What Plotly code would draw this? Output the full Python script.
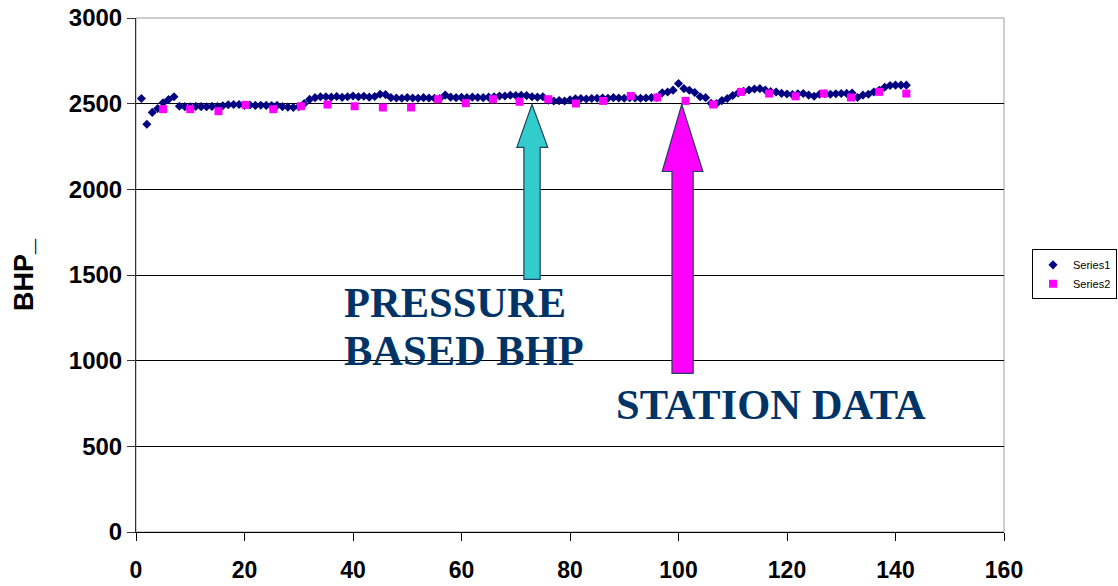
import plotly.graph_objects as go

# ---- data ----
series1_x = list(range(1, 143))
series1_y = [
    2530, 2380, 2449, 2472, 2505, 2524, 2540, 2485, 2483, 2482,
    2484, 2483, 2482, 2484, 2483, 2488, 2494, 2495, 2495, 2490,
    2492, 2490, 2491, 2490, 2489, 2490, 2483, 2480, 2478, 2482,
    2500, 2525, 2535, 2540, 2540, 2538, 2542, 2537, 2540, 2545,
    2540, 2543, 2538, 2542, 2555, 2553, 2535, 2533, 2532, 2535,
    2533, 2532, 2535, 2533, 2532, 2530, 2550, 2538, 2535, 2537,
    2535, 2538, 2536, 2535, 2538, 2540, 2545, 2545, 2549, 2548,
    2549, 2547, 2540, 2538, 2540, 2520, 2516, 2518, 2516, 2522,
    2528, 2530, 2527, 2530, 2532, 2533, 2532, 2535, 2533, 2532,
    2535, 2533, 2532, 2533, 2535, 2536, 2563, 2568, 2579, 2618,
    2588, 2578, 2565, 2540, 2535, 2502, 2500, 2518, 2530, 2548,
    2562, 2572, 2580, 2586, 2588, 2580, 2570, 2568, 2560, 2556,
    2553, 2558, 2559, 2550, 2543, 2555, 2558, 2555, 2558, 2559,
    2560, 2562, 2536, 2550, 2555, 2568, 2578, 2596, 2606, 2608,
    2608, 2608,
]

series2_x = [5.0, 10.0, 15.2, 20.2, 25.3, 30.4, 35.3, 40.3, 45.5, 50.7,
             55.7, 60.8, 65.8, 70.7, 76.0, 81.1, 86.1, 91.2, 96.1, 101.3,
             106.4, 111.5, 116.7, 121.6, 126.8, 131.8, 137.0, 142.0]
series2_y = [2468, 2468, 2456, 2493, 2468, 2485, 2495, 2485, 2478, 2478,
             2526, 2503, 2526, 2511, 2526, 2501, 2516, 2545, 2536, 2516,
             2495, 2569, 2559, 2543, 2559, 2536, 2569, 2559]

x_ticks = [0, 20, 40, 60, 80, 100, 120, 140, 160]
y_ticks = [0, 500, 1000, 1500, 2000, 2500, 3000]

SANS = "Liberation Sans, Arial, sans-serif"
SERIF = "Liberation Serif, Times New Roman, serif"
NAVY_TXT = "#003366"

fig = go.Figure()
fig.add_trace(go.Scatter(
    x=series1_x, y=series1_y, mode="markers", name="Series1",
    marker=dict(symbol="diamond", size=7, color="#000080",
                line=dict(width=0)),
))
fig.add_trace(go.Scatter(
    x=series2_x, y=series2_y, mode="markers", name="Series2",
    marker=dict(symbol="square", size=8, color="#FF00FF",
                line=dict(width=0)),
))

# block arrows (decorations, in data coordinates)
cyan_path = "M 73.0 2496 L 75.9 2245 L 74.5 2245 L 74.5 1475 L 71.5 1475 L 71.5 2245 L 70.2 2245 Z"
mag_path = "M 100.6 2496 L 104.5 2104 L 102.7 2104 L 102.7 926 L 98.8 926 L 98.8 2104 L 97.0 2104 Z"
fig.add_shape(type="path", path=cyan_path, xref="x", yref="y",
              fillcolor="#33CCCC", line=dict(color="#1F4060", width=1.2), layer="above")
fig.add_shape(type="path", path=mag_path, xref="x", yref="y",
              fillcolor="#FF00FF", line=dict(color="#1F4060", width=1.2), layer="above")

# plot-area border (grey)
fig.add_shape(type="rect", xref="paper", yref="paper", x0=0, y0=0, x1=1, y1=1,
              line=dict(color="#9A9A9A", width=1), layer="below")

def px2paper_x(px):
    return (px - 136) / 868.0

def px2paper_y(py):
    return (531.7 - py) / 514.1

txt_font = dict(family=SERIF, size=42.5, color=NAVY_TXT, weight="bold")
for text, px, py in [("PRESSURE", 342, 301.7), ("BASED BHP", 342, 350.0),
                     ("STATION DATA", 614, 403.7)]:
    fig.add_annotation(text=text, xref="paper", yref="paper",
                       x=px2paper_x(px), y=px2paper_y(py),
                       xanchor="left", yanchor="middle", showarrow=False,
                       font=txt_font)

fig.add_annotation(text="BHP_", xref="paper", yref="paper",
                   x=px2paper_x(24), y=0.5, xanchor="center", yanchor="middle",
                   textangle=-90, showarrow=False,
                   font=dict(family=SANS, size=27, color="black", weight="bold"))

fig.update_layout(
    width=1118, height=586,
    margin=dict(l=136, r=114, t=18, b=54, autoexpand=False),
    paper_bgcolor="white", plot_bgcolor="white",
    showlegend=True,
    legend=dict(x=px2paper_x(1117), y=px2paper_y(249), xanchor="right", yanchor="top",
                bordercolor="black", borderwidth=1, bgcolor="white",
                font=dict(family=SANS, size=11, color="black"),
                itemwidth=30, tracegroupgap=0),
    xaxis=dict(range=[0, 160], tickmode="array", tickvals=x_ticks,
               ticktext=[str(v) for v in x_ticks],
               showgrid=False, zeroline=False, showline=True,
               linecolor="black", linewidth=1,
               ticks="outside", ticklen=8, tickcolor="black",
               ticklabelstandoff=9,
               tickfont=dict(family=SANS, size=23, color="black", weight="bold")),
    yaxis=dict(range=[0, 3000], tickmode="array", tickvals=y_ticks,
               ticktext=[str(v) for v in y_ticks],
               showgrid=True, gridcolor="black", gridwidth=1,
               zeroline=False, showline=True, linecolor="#333333", linewidth=1,
               ticks="outside", ticklen=8, tickcolor="#333333",
               tickfont=dict(family=SANS, size=24, color="black", weight="bold")),
)

fig.write_html("out.html")
